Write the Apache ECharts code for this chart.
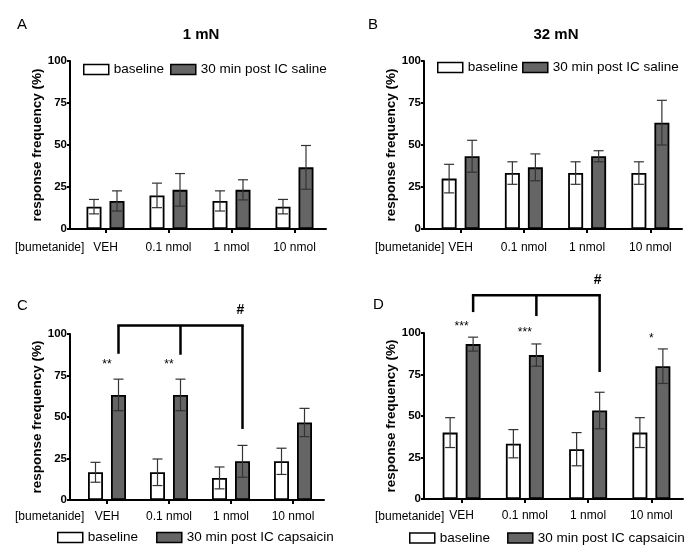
<!DOCTYPE html>
<html><head><meta charset="utf-8">
<script src="https://cdn.jsdelivr.net/npm/echarts@6/dist/echarts.min.js"></script>
<style>html,body{margin:0;padding:0;background:#fff}#c{width:700px;height:550px}</style>
</head><body><div id="c"></div>
<script>
// ---------- data ----------
const categories = ['VEH', '0.1 nmol', '1 nmol', '10 nmol'];
const yTickMax = 100;
const yTickStep = 25;

// Panel A (1 mN, IC saline)
const baselineA = [13.3, 20.0, 16.7, 13.3];
const baselineErrA = [4.3, 7.3, 6.0, 4.3];
const salineA = [16.7, 23.3, 23.3, 36.7];
const salineErrA = [6.0, 9.7, 6.0, 13.0];

// Panel B (32 mN, IC saline)
const baselineB = [30.0, 33.3, 33.3, 33.3];
const baselineErrB = [8.5, 6.7, 6.7, 6.7];
const salineB = [43.3, 36.7, 43.3, 63.3];
const salineErrB = [9.5, 8.0, 3.3, 13.3];

// Panel C (IC capsaicin)
const baselineC = [16.7, 16.7, 13.3, 23.3];
const baselineErrC = [6.0, 8.0, 6.6, 7.9];
const capsaicinC = [63.3, 63.3, 23.3, 46.7];
const capsaicinErrC = [9.5, 9.5, 9.6, 8.5];

// Panel D (IC capsaicin)
const baselineD = [40.0, 33.3, 30.0, 40.0];
const baselineErrD = [9.0, 8.5, 10.0, 9.0];
const capsaicinD = [93.3, 86.7, 53.3, 80.0];
const capsaicinErrD = [4.2, 6.7, 11.0, 10.4];

// significance brackets (# comparison) : category of each drop, bottom of drop, top of bracket
const bracketCatsC = [0, 1, 2];
const bracketEndsC = [88.1, 87.5, 42.8];
const bracketTopC = 105.1;
const bracketCatsD = [0, 1, 2];
const bracketEndsD = [112.6, 110.2, 76.5];
const bracketTopD = 122.7;
const bracketMark = '#';

// asterisks
const starCatsC = [0, 1];
const starLevelsC = [83.3, 83.3];
const starTextsC = ['**', '**'];
const starCatsD = [0, 1, 3];
const starLevelsD = [105.8, 102.2, 98.6];
const starTextsD = ['***', '***', '*'];

const nameBase = 'baseline';
const nameSaline = '30 min post IC saline';
const nameCaps = '30 min post IC capsaicin';
const yName = 'response frequency (%)';
const xLead = '[bumetanide]';

// ---------- style / layout ----------
const FONT = 'Liberation Sans, Arial, Helvetica, sans-serif';
const BAR_W = 15, BAR_BORDER = 1.8, BAR_GAP_PX = 8;
const BAR_OFF = (BAR_W + BAR_GAP_PX) / 2;
const CAP = 5;
const GRAY = '#656565';

const layouts = [
  {left: 74, top: 61, width: 252, height: 168, yOff: 4, labMargin: 13},
  {left: 429, top: 61, width: 253, height: 168, yOff: 5, labMargin: 13},
  {left: 76, top: 334, width: 248, height: 166, yOff: 6, labMargin: 11},
  {left: 430, top: 333, width: 253, height: 166, yOff: 6, labMargin: 11}
];

const panels = [
  {base: baselineA, baseErr: baselineErrA, treat: salineA, treatErr: salineErrA, treatName: nameSaline},
  {base: baselineB, baseErr: baselineErrB, treat: salineB, treatErr: salineErrB, treatName: nameSaline},
  {base: baselineC, baseErr: baselineErrC, treat: capsaicinC, treatErr: capsaicinErrC, treatName: nameCaps,
   bracket: {cats: bracketCatsC, ends: bracketEndsC, top: bracketTopC},
   stars: {cats: starCatsC, levels: starLevelsC, texts: starTextsC}},
  {base: baselineD, baseErr: baselineErrD, treat: capsaicinD, treatErr: capsaicinErrD, treatName: nameCaps,
   bracket: {cats: bracketCatsD, ends: bracketEndsD, top: bracketTopD},
   stars: {cats: starCatsD, levels: starLevelsD, texts: starTextsD}}
];

function errRender(side) {
  return function (params, api) {
    const i = api.value(0), m = api.value(1), e = api.value(2);
    const x = api.coord([i, m])[0] + side * BAR_OFF;
    const yT = api.coord([i, m + e])[1];
    const yB = api.coord([i, m - e])[1];
    const st = {stroke: '#333', lineWidth: 1.2};
    return {type: 'group', children: [
      {type: 'line', shape: {x1: x, y1: yT, x2: x, y2: yB}, style: st},
      {type: 'line', shape: {x1: x - CAP, y1: yT, x2: x + CAP, y2: yT}, style: st},
      {type: 'line', shape: {x1: x - CAP, y1: yB, x2: x + CAP, y2: yB}, style: st}
    ]};
  };
}

function bracketRender(br) {
  return function (params, api) {
    const c = api.value(0), end = api.value(1), top = api.value(2);
    const x = api.coord([c, end])[0] + BAR_OFF;
    const yE = api.coord([c, end])[1];
    const yTop = api.coord([c, top])[1];
    const st = {stroke: '#000', lineWidth: 2.5};
    const children = [{type: 'line', shape: {x1: x, y1: yTop, x2: x, y2: yE}, style: st}];
    if (params.dataIndex === 0) {
      const lastCat = br.cats[br.cats.length - 1];
      const xL = api.coord([lastCat, top])[0] + BAR_OFF;
      children.push({type: 'line', shape: {x1: x, y1: yTop, x2: xL, y2: yTop},
        style: {stroke: '#000', lineWidth: 2.5, lineCap: 'square'}});
      children.push({type: 'text', style: {text: bracketMark, x: xL - 2, y: yTop - 15.5,
        align: 'center', verticalAlign: 'middle', font: 'bold 14px ' + FONT, fill: '#000'}});
    }
    return {type: 'group', children: children};
  };
}

function starRender(texts) {
  return function (params, api) {
    const c = api.value(0), lv = api.value(1);
    const p = api.coord([c, lv]);
    return {type: 'text', style: {text: texts[params.dataIndex], x: p[0], y: p[1] + 3,
      align: 'center', verticalAlign: 'middle', font: '12px ' + FONT, fill: '#000'}};
  };
}

const grid = [], xAxis = [], yAxis = [], series = [];
panels.forEach((p, k) => {
  const L = layouts[k];
  grid.push({left: L.left, top: L.top, width: L.width, height: L.height, containLabel: false});
  xAxis.push({
    type: 'category', gridIndex: k, data: categories,
    axisLine: {lineStyle: {color: '#000', width: 2}, symbol: ['rect', 'none'], symbolSize: [2, L.yOff * 2 + 2]},
    axisTick: {show: true, alignWithLabel: true, length: 4, lineStyle: {color: '#000', width: 2}},
    axisLabel: {color: '#000', fontSize: 12, fontFamily: FONT, margin: L.labMargin}
  });
  yAxis.push({
    type: 'value', gridIndex: k, min: 0, max: yTickMax, interval: yTickStep, offset: L.yOff,
    name: yName, nameLocation: 'middle', nameGap: 24,
    nameTextStyle: {color: '#000', fontSize: 13.5, fontWeight: 'bold', fontFamily: FONT},
    axisLine: {show: true, lineStyle: {color: '#000', width: 2}},
    axisTick: {show: true, length: 3, lineStyle: {color: '#000', width: 2}},
    axisLabel: {color: '#000', fontSize: 11.5, fontWeight: 'bold', fontFamily: FONT, margin: 3},
    splitLine: {show: false}
  });
  series.push({
    type: 'bar', name: nameBase, xAxisIndex: k, yAxisIndex: k, data: p.base,
    barWidth: BAR_W, barGap: (BAR_GAP_PX / BAR_W * 100) + '%',
    itemStyle: {color: '#ffffff', borderColor: '#000', borderWidth: BAR_BORDER},
    emphasis: {disabled: true}, animation: false
  });
  series.push({
    type: 'bar', name: p.treatName, xAxisIndex: k, yAxisIndex: k, data: p.treat,
    barWidth: BAR_W, barGap: (BAR_GAP_PX / BAR_W * 100) + '%',
    itemStyle: {color: GRAY, borderColor: '#000', borderWidth: BAR_BORDER},
    emphasis: {disabled: true}, animation: false
  });
  series.push({
    type: 'custom', xAxisIndex: k, yAxisIndex: k, z: 5, clip: false, silent: true, animation: false,
    renderItem: errRender(-1),
    data: p.base.map((v, i) => [i, v, p.baseErr[i]])
  });
  series.push({
    type: 'custom', xAxisIndex: k, yAxisIndex: k, z: 5, clip: false, silent: true, animation: false,
    renderItem: errRender(1),
    data: p.treat.map((v, i) => [i, v, p.treatErr[i]])
  });
  if (p.bracket) {
    series.push({
      type: 'custom', xAxisIndex: k, yAxisIndex: k, z: 6, clip: false, silent: true, animation: false,
      renderItem: bracketRender(p.bracket),
      data: p.bracket.cats.map((c, i) => [c, p.bracket.ends[i], p.bracket.top])
    });
  }
  if (p.stars) {
    series.push({
      type: 'custom', xAxisIndex: k, yAxisIndex: k, z: 6, clip: false, silent: true, animation: false,
      renderItem: starRender(p.stars.texts),
      data: p.stars.cats.map((c, i) => [c, p.stars.levels[i]])
    });
  }
});

const legendBase = {
  orient: 'horizontal', padding: 0, itemWidth: 25, itemHeight: 10, icon: 'rect',
  itemStyle: {borderColor: '#000', borderWidth: 1.5},
  textStyle: {color: '#000', fontSize: 13.5, fontFamily: FONT},
  selectedMode: false
};
const legend = [
  Object.assign({}, legendBase, {left: 83, top: 62.5, itemGap: 6, data: [nameBase, nameSaline]}),
  Object.assign({}, legendBase, {left: 437, top: 60.5, itemGap: 4, data: [nameBase, nameSaline]}),
  Object.assign({}, legendBase, {left: 57, top: 530.5, itemGap: 18, data: [nameBase, nameCaps]}),
  Object.assign({}, legendBase, {left: 409, top: 531, itemGap: 17, data: [nameBase, nameCaps]})
];

function txt(x, y, s, font, align) {
  return {type: 'text', x: x, y: y,
    style: {text: s, font: font, fill: '#000', align: align || 'left', verticalAlign: 'middle'}};
}
const graphic = [
  txt(17, 25, 'A', '15px ' + FONT),
  txt(368, 25, 'B', '15px ' + FONT),
  txt(17, 306, 'C', '15px ' + FONT),
  txt(373, 305, 'D', '15px ' + FONT),
  txt(201, 35, '1 mN', 'bold 15px ' + FONT, 'center'),
  txt(556, 35, '32 mN', 'bold 15px ' + FONT, 'center'),
  txt(15, 248, xLead, '12px ' + FONT),
  txt(375, 248, xLead, '12px ' + FONT),
  txt(15, 517, xLead, '12px ' + FONT),
  txt(375, 517, xLead, '12px ' + FONT)
];

const chart = echarts.init(document.getElementById('c'), null, {renderer: 'canvas'});
chart.setOption({
  backgroundColor: '#ffffff',
  animation: false,
  grid: grid, xAxis: xAxis, yAxis: yAxis, series: series,
  legend: legend, graphic: graphic
});
</script>
</body></html>
